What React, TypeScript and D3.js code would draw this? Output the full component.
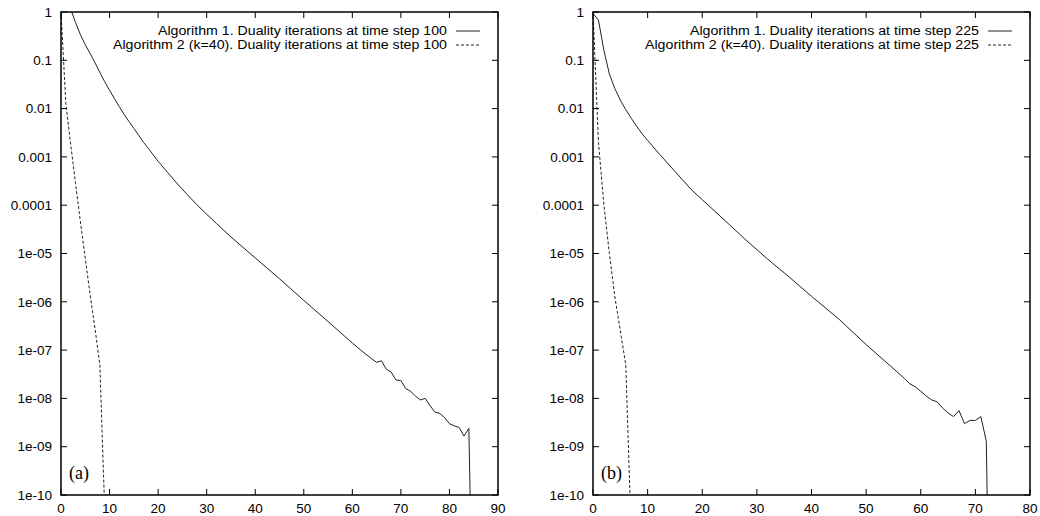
import React, { useEffect, useRef } from "react";
import * as d3 from "d3";

// residual vs. iteration
const iterA1 = [0, 1, 2, 3, 4, 5, 6, 7, 8, 9, 10, 11, 12, 13, 14, 15, 16, 17, 18, 19, 20, 22, 24, 26, 28, 30, 32, 35, 40, 45, 50, 55, 60, 62, 64, 65, 66, 67, 68, 69, 70, 71, 72, 73, 74, 75, 76, 77, 78, 79, 80, 81, 82, 83, 84, 85];
const resA1 = [1.3, 1.2, 1.15, 0.6, 0.34, 0.21, 0.138, 0.089, 0.056, 0.036, 0.024, 0.0162, 0.011, 0.0076, 0.0054, 0.0039, 0.0028, 0.002, 0.0015, 0.0011, 8.1e-4, 4.7e-4, 2.75e-4, 1.66e-4, 1.02e-4, 6.5e-5, 4.2e-5, 2.2e-5, 8.1e-6, 3.0e-6, 1.07e-6, 3.9e-7, 1.4e-7, 9.5e-8, 6.6e-8, 5.6e-8, 6.0e-8, 4.0e-8, 3.5e-8, 2.4e-8, 2.35e-8, 1.6e-8, 1.4e-8, 1.12e-8, 9.3e-9, 1.0e-8, 7.1e-9, 5.2e-9, 4.9e-9, 4.0e-9, 3.0e-9, 2.7e-9, 2.5e-9, 1.66e-9, 2.4e-9, 1e-14];

const iterA2 = [0, 1, 2, 3, 4, 5, 6, 7, 8, 9];
const resA2 = [1, 0.0126, 0.0018, 2.8e-4, 4.5e-5, 7.9e-6, 1.4e-6, 2.8e-7, 5.0e-8, 5e-11];

const iterB1 = [0, 1, 2, 3, 4, 5, 6, 7, 8, 9, 10, 12, 15, 18, 20, 24, 28, 32, 36, 40, 45, 50, 54, 57, 58, 59, 60, 61, 62, 63, 64, 65, 66, 67, 68, 69, 70, 71, 72, 73];
const resB1 = [0.93, 0.68, 0.16, 0.052, 0.026, 0.015, 0.0095, 0.0063, 0.0043, 0.003, 0.0022, 0.0012, 5.0e-4, 2.1e-4, 1.3e-4, 5.0e-5, 1.9e-5, 7.6e-6, 3.2e-6, 1.3e-6, 4.4e-7, 1.3e-7, 5.2e-8, 2.6e-8, 2.0e-8, 1.74e-8, 1.4e-8, 1.12e-8, 9.3e-9, 8.5e-9, 6.3e-9, 5.0e-9, 4.2e-9, 5.6e-9, 3.0e-9, 3.5e-9, 3.5e-9, 4.2e-9, 1.3e-9, 1e-16];

const iterB2 = [0, 1, 2, 3, 4, 5, 6, 7];
const resB2 = [1, 0.002, 1e-4, 1e-5, 1.26e-6, 2.5e-7, 5.0e-8, 1.6e-11];

const yTicks = [1, 0.1, 0.01, 0.001, 0.0001, 1e-5, 1e-6, 1e-7, 1e-8, 1e-9, 1e-10];
const yTickLabels = ["1", "0.1", "0.01", "0.001", "0.0001", "1e-05", "1e-06", "1e-07", "1e-08", "1e-09", "1e-10"];

const panels = [
  {
    id: "a", left: 61, right: 498, xMax: 90, tag: "(a)",
    series: [
      { x: iterA1, y: resA1, dash: null, label: "Algorithm 1. Duality iterations at time step 100" },
      { x: iterA2, y: resA2, dash: "3,2", label: "Algorithm 2 (k=40). Duality iterations at time step 100" },
    ],
  },
  {
    id: "b", left: 593, right: 1030, xMax: 80, tag: "(b)",
    series: [
      { x: iterB1, y: resB1, dash: null, label: "Algorithm 1. Duality iterations at time step 225" },
      { x: iterB2, y: resB2, dash: "3,2", label: "Algorithm 2 (k=40). Duality iterations at time step 225" },
    ],
  },
];

export default function App() {
  const svgRef = useRef<SVGSVGElement>(null);
  const width = 1040;
  const height = 516;

  useEffect(() => {
    const svg = d3.select(svgRef.current);
    svg.selectAll("*").remove();

    const top = 12;
    const bottom = 495;
    const font = "'Liberation Sans', Arial, Helvetica, sans-serif";
    const tickLen = 6;
    // legend text is wider than the font gives; stretch to the reference widths
    const legendWidths = [289, 334];

    panels.forEach((p) => {
      const x = d3.scaleLinear().domain([0, p.xMax]).range([p.left, p.right]);
      const y = d3.scaleLog().domain([1e-10, 1]).range([bottom, top]);
      const g = svg.append("g");

      // clip so the curves stop at the frame
      g.append("clipPath")
        .attr("id", `clip-${p.id}`)
        .append("rect")
        .attr("x", p.left)
        .attr("y", top)
        .attr("width", p.right - p.left)
        .attr("height", bottom - top);

      const line = d3
        .line<[number, number]>()
        .x((d) => x(d[0]))
        .y((d) => y(d[1]));

      p.series.forEach((s) => {
        const pts = s.x.map((v, i) => [v, s.y[i]] as [number, number]);
        g.append("path")
          .attr("d", line(pts))
          .attr("fill", "none")
          .attr("stroke", "#222")
          .attr("stroke-width", 1)
          .attr("stroke-dasharray", s.dash)
          .attr("clip-path", `url(#clip-${p.id})`);
      });

      // y ticks (inward, mirrored on the right)
      yTicks.forEach((t, i) => {
        const yy = y(t);
        g.append("line").attr("x1", p.left).attr("x2", p.left + tickLen).attr("y1", yy).attr("y2", yy).attr("stroke", "#000");
        g.append("line").attr("x1", p.right).attr("x2", p.right - tickLen).attr("y1", yy).attr("y2", yy).attr("stroke", "#000");
        g.append("text")
          .attr("x", p.left - 9)
          .attr("y", yy)
          .attr("dy", "0.35em")
          .attr("text-anchor", "end")
          .style("font-family", font)
          .style("font-size", "13.5px")
          .text(yTickLabels[i]);
      });

      // x ticks (inward, mirrored on the top)
      x.ticks(p.xMax / 10).forEach((t) => {
        const xx = x(t);
        g.append("line").attr("x1", xx).attr("x2", xx).attr("y1", bottom).attr("y2", bottom - tickLen).attr("stroke", "#000");
        g.append("line").attr("x1", xx).attr("x2", xx).attr("y1", top).attr("y2", top + tickLen).attr("stroke", "#000");
        g.append("text")
          .attr("x", xx)
          .attr("y", 513)
          .attr("text-anchor", "middle")
          .style("font-family", font)
          .style("font-size", "13.5px")
          .text(String(t));
      });

      // frame
      g.append("rect")
        .attr("x", p.left)
        .attr("y", top)
        .attr("width", p.right - p.left)
        .attr("height", bottom - top)
        .attr("fill", "none")
        .attr("stroke", "#000")
        .attr("stroke-width", 1.5);

      // legend
      p.series.forEach((s, i) => {
        const ly = 31 + i * 14;
        g.append("text")
          .attr("x", p.right - 51 - legendWidths[i])
          .attr("y", ly)
          .attr("dy", "0.35em")
          .attr("textLength", legendWidths[i])
          .attr("lengthAdjust", "spacingAndGlyphs")
          .style("font-family", font)
          .style("font-size", "12.5px")
          .text(s.label);
        g.append("line")
          .attr("x1", p.right - 42)
          .attr("x2", p.right - 18)
          .attr("y1", ly)
          .attr("y2", ly)
          .attr("stroke", "#222")
          .attr("stroke-dasharray", s.dash);
      });

      g.append("text")
        .attr("x", p.left + 8)
        .attr("y", 479)
        .style("font-family", "'Liberation Serif', 'Times New Roman', serif")
        .style("font-size", "18px")
        .text(p.tag);
    });
  }, []);

  return (
    <svg
      ref={svgRef}
      width={width}
      height={height}
      style={{ position: "absolute", left: 0, top: 0, background: "#fff" }}
    ></svg>
  );
}
